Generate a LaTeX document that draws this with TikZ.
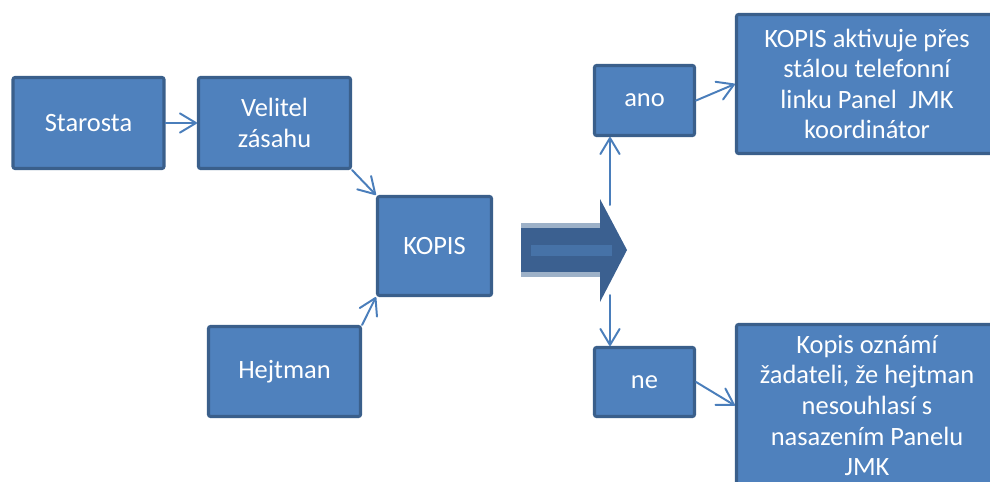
\documentclass[tikz,border=0pt]{standalone}
\usepackage{fontspec}
\setmainfont{Carlito}
\usetikzlibrary{arrows.meta}
\definecolor{boxfill}{HTML}{4F81BD}
\definecolor{boxline}{HTML}{3A5F8B}
\definecolor{conncol}{HTML}{4A7EBB}
\definecolor{bigdark}{HTML}{3B6090}
\definecolor{bigedge}{HTML}{9DB1C8}
\definecolor{bigmid}{HTML}{4672A7}

\begin{document}
\begin{tikzpicture}[
  x=0.025cm, y=-0.025cm,
  box/.style={draw=boxline, fill=boxfill, line width=2.2pt, rounded corners=1.5pt,
              align=center, text=white, inner sep=0pt,
              font=\fontsize{18.8}{21.7}\selectfont},
  arr/.style={draw=conncol, line width=1.4pt, line cap=round,
              -{Straight Barb[length=4mm, width=4.8mm, round]}},
]
\useasboundingbox (0,0) rectangle (990,481);
\clip (0,0) rectangle (990,481);

\node[box, minimum width=3.775cm, minimum height=2.275cm] (starosta) at (88.5,123) {Starosta};
\node[box, minimum width=3.8cm, minimum height=2.275cm] (velitel) at (274.5,123) {Velitel\\zásahu};
\node[box, minimum width=2.85cm, minimum height=2.475cm] (kopis) at (434.5,246) {KOPIS};
\node[box, minimum width=3.8cm, minimum height=2.25cm] (hejtman) at (284.5,371.5) {Hejtman};

\node[box, minimum width=2.5cm, minimum height=1.75cm] (ano) at (644.5,100.5) {ano};
\node[box, minimum width=2.5cm, minimum height=1.725cm] (ne) at (644.5,382) {ne};
\node[box, minimum width=6.525cm, minimum height=3.475cm] (aktiv) at (867,84)
  {KOPIS aktivuje přes\\stálou telefonní\\linku Panel\ \ JMK\\koordinátor};
\node[box, minimum width=6.525cm, minimum height=4.05cm] (oznami) at (867,405.5)
  {Kopis oznámí\\žadateli, že hejtman\\nesouhlasí s\\nasazením Panelu\\JMK};

\coordinate (headtop) at (610,205);
\coordinate (headbot) at (610,295);

\draw[arr] (starosta) -- (velitel);
\draw[arr] (velitel.south east) -- (kopis.north west);
\draw[arr] (hejtman.north east) -- (kopis.south west);
\draw[arr] (headtop) -- (ano.south -| headtop);
\draw[arr] (headbot) -- (ne.north -| headbot);
\draw[arr] (ano.east) -- (aktiv.west);
\draw[arr] (ne.east) -- (oznami.west);

\fill[bigedge] (521,223) rectangle (601,277);
\fill[bigdark] (521,228) rectangle (601,272);
\fill[bigdark] (600,199) -- (627,250) -- (600,302) -- cycle;
\fill[bigmid] (531,245) rectangle (612,256);

\end{tikzpicture}
\end{document}
